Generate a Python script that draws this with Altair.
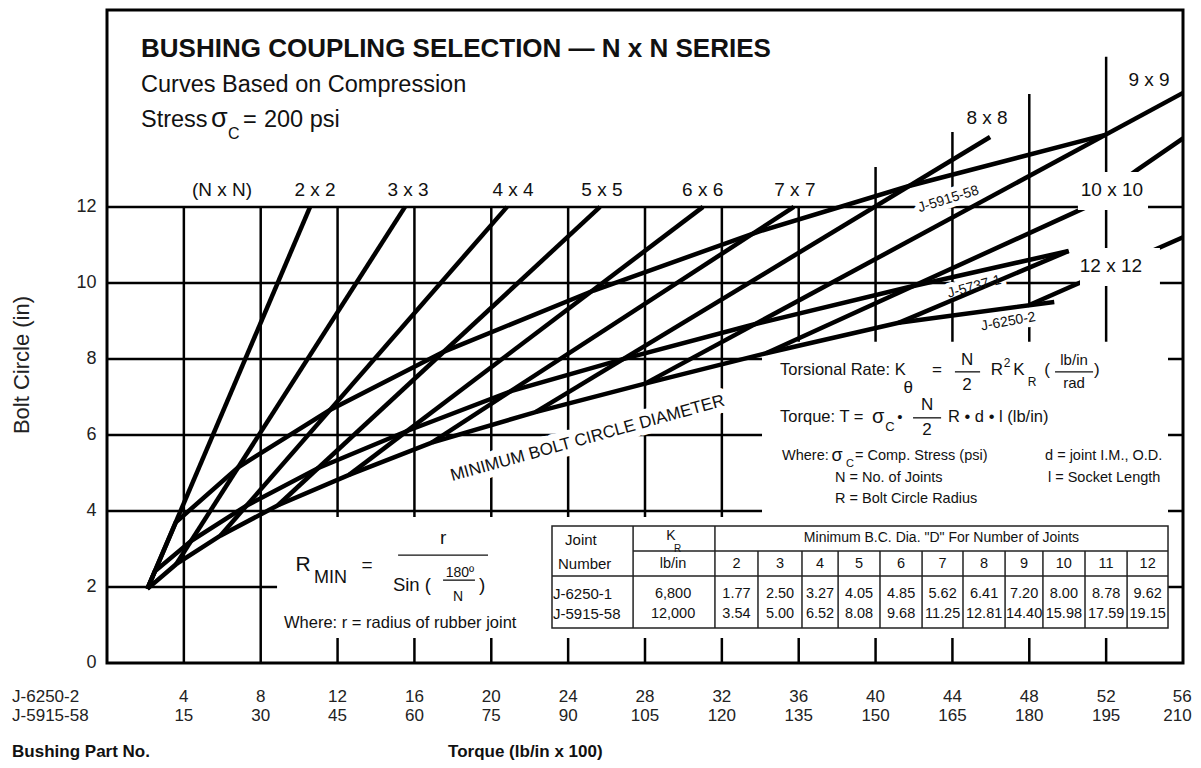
import altair as alt
import pandas as pd

# ---------------- values ----------------
X_MAX = 56.0          # torque, J-6250-2 scale (lb/in x 100)
Y_MAX = 17.18         # bolt circle (in) at the top edge of the frame
X_TICKS_6250 = [4, 8, 12, 16, 20, 24, 28, 32, 36, 40, 44, 48, 52, 56]
X_TICKS_5915 = [15, 30, 45, 60, 75, 90, 105, 120, 135, 150, 165, 180, 195, 210]
Y_TICKS = [0, 2, 4, 6, 8, 10, 12]

# grid
V_GRID_X = [4, 8, 12, 16, 20, 24, 28, 32, 36, 40, 44, 48, 52]
V_GRID_TOP = [12, 12, 12, 12, 12, 12, 12, 12, 12, 13.05, 13.97, 14.97, 15.95]
H_GRID_Y = [2, 4, 6, 8, 10, 12]

# N x N lines: from the minimum-B.C. curve up to their end
NN_N = [2, 3, 4, 5, 6, 7, 8, 9, 10, 11, 12]
NN_X0 = [2.1, 3.6, 5.9, 8.9, 12.6, 16.9, 22.3, 28.0, 34.3, 41.2, 48.0]
NN_Y0 = [1.95, 2.6, 3.35, 4.15, 4.95, 5.8, 6.6, 7.35, 8.15, 8.95, 9.42]
NN_X1 = [10.57, 15.51, 20.82, 25.66, 31.02, 35.75, 45.96, 56.0, 50.99, 50.05, 56.0]
NN_Y1 = [12.0, 12.0, 12.0, 12.0, 12.0, 12.0, 13.84, 15.0, 12.0, 10.84, 11.2]
TEN_TAIL_X = [50.99, 53.6, 56.0]
TEN_TAIL_Y = [12.0, 12.97, 13.8]

# bushing curves
J6250_X = [2.1, 3.6, 5.9, 8.9, 12.6, 16.9, 22.3, 28.0, 34.3, 41.2, 49.3]
J6250_Y = [1.95, 2.6, 3.35, 4.15, 4.95, 5.8, 6.6, 7.35, 8.15, 8.95, 9.5]
J5737_X = [2.1, 2.49, 4.37, 7.26, 11.0, 15.65, 21.07, 26.9, 33.6, 41.8, 50.05]
J5737_Y = [1.95, 2.41, 3.21, 4.14, 5.13, 6.11, 7.16, 8.0, 8.9, 9.9, 10.84]
J5915_X = [2.1, 3.58, 6.83, 11.58, 17.57, 25.33, 33.92, 41.74, 52.0]
J5915_Y = [1.95, 3.7, 5.15, 6.65, 8.2, 9.8, 11.35, 12.55, 13.9]

# white panels behind the formulas / table, and behind two labels
BOX_X0 = [8.85, 34.09, 50.53, 50.64]
BOX_X1 = [55.22, 55.22, 54.18, 54.8]
BOX_Y0 = [0.66, 3.84, 11.92, 9.92]
BOX_Y1 = [3.84, 8.45, 12.92, 10.92]

# table
TBL_X = [23.16, 55.22]
TBL_Y = [0.921, 3.605]
TBL_FULL_COLS = [27.38, 31.64]
TBL_NUM_COLS = [33.88, 36.17, 38.05, 40.23, 42.42, 44.55, 46.74, 48.71, 50.9, 53.09]
TBL_MID_Y = 2.947
TBL_HEAD_Y = 2.289
TBL_CENTERS = [32.76, 35.03, 37.11, 39.14, 41.33, 43.49, 45.65, 47.73, 49.8, 52.0, 54.16]
TBL_JOINTS = ["2", "3", "4", "5", "6", "7", "8", "9", "10", "11", "12"]
TBL_ROW1 = ["1.77", "2.50", "3.27", "4.05", "4.85", "5.62", "6.41", "7.20", "8.00", "8.78", "9.62"]
TBL_ROW2 = ["3.54", "5.00", "6.52", "8.08", "9.68", "11.25", "12.81", "14.40", "15.98", "17.59", "19.15"]

# labels
COL_LABELS = ["(N x N)", "2 x 2", "3 x 3", "4 x 4", "5 x 5", "6 x 6", "7 x 7",
              "8 x 8", "9 x 9", "10 x 10", "12 x 12"]
COL_LABEL_X = [5.99, 10.83, 15.67, 21.13, 25.76, 31.0, 35.8, 45.8, 54.23, 52.3, 52.25]
COL_LABEL_Y = [12.45, 12.45, 12.45, 12.45, 12.45, 12.45, 12.45, 14.34, 15.34, 12.45, 10.45]

ROT_LABELS = ["J-5915-58", "J-5737-1", "J-6250-2"]
ROT_X = [43.79, 45.14, 46.91]
ROT_Y = [12.2, 9.9, 8.98]
ROT_ANGLE = [343, 345, 350]

FRACTION_BARS = [  # x0, x1, y
    (44.13, 45.44, 7.66), (49.34, 51.32, 7.66), (41.95, 43.41, 6.45),
    (15.15, 19.83, 2.84), (17.49, 19.15, 2.18),
]

FONT = "Liberation Sans"
INK = "#111111"

XS = alt.Scale(domain=[0, X_MAX], nice=False, zero=False)
YS = alt.Scale(domain=[0, Y_MAX], nice=False, zero=False)


def X(f="x"):
    return alt.X(f"{f}:Q", scale=XS, axis=None)


def Y(f="y"):
    return alt.Y(f"{f}:Q", scale=YS, axis=None)


def texts(items, align="center", baseline="middle", weight="normal",
          color=INK, halo=0):
    df = pd.DataFrame(items, columns=["text", "x", "y", "size", "angle"])
    kw = dict(font=FONT, align=align, baseline=baseline, fontWeight=weight)
    if halo:
        mk = alt.Chart(df).mark_text(color="white", stroke="white",
                                     strokeWidth=halo, strokeJoin="round", **kw)
    else:
        mk = alt.Chart(df).mark_text(color=color, **kw)
    return mk.encode(
        x=X(), y=Y(), text="text:N",
        size=alt.Size("size:Q", scale=None, legend=None),
        angle=alt.Angle("angle:Q", scale=None, legend=None),
    )


layers = []

# ---- grid ----
vg = pd.DataFrame({"x": V_GRID_X, "y0": [0] * len(V_GRID_X), "y1": V_GRID_TOP})
layers.append(alt.Chart(vg).mark_rule(color="black", strokeWidth=2.5)
              .encode(x=X(), y=Y("y0"), y2=alt.Y2("y1:Q")))
hg = pd.DataFrame({"y": H_GRID_Y, "x0": [0] * len(H_GRID_Y), "x1": [X_MAX] * len(H_GRID_Y)})
layers.append(alt.Chart(hg).mark_rule(color="black", strokeWidth=2.5)
              .encode(y=Y(), x=X("x0"), x2=alt.X2("x1:Q")))

# ---- white panels (formula + table area) ----
bx = pd.DataFrame({"x0": BOX_X0[:2], "x1": BOX_X1[:2], "y0": BOX_Y0[:2], "y1": BOX_Y1[:2]})
layers.append(alt.Chart(bx).mark_rect(color="white")
              .encode(x=X("x0"), x2=alt.X2("x1:Q"), y=Y("y0"), y2=alt.Y2("y1:Q")))

# ---- halos behind rotated labels ----
rot_items = [(t, x, y, 14, a) for t, x, y, a in zip(ROT_LABELS, ROT_X, ROT_Y, ROT_ANGLE)]
min_item = [("MINIMUM BOLT CIRCLE DIAMETER", 25.01, 5.91, 17, 344.5)]
layers.append(texts(rot_items, halo=10))
layers.append(texts(min_item, halo=14))

# ---- curves ----
rows = []
for i, n in enumerate(NN_N):
    rows.append({"id": f"nn{n}", "o": 0, "x": NN_X0[i], "y": NN_Y0[i]})
    rows.append({"id": f"nn{n}", "o": 1, "x": NN_X1[i], "y": NN_Y1[i]})
for name, xs, ys in [("tail10", TEN_TAIL_X, TEN_TAIL_Y), ("J6250", J6250_X, J6250_Y),
                     ("J5737", J5737_X, J5737_Y), ("J5915", J5915_X, J5915_Y)]:
    for k, (a, b) in enumerate(zip(xs, ys)):
        rows.append({"id": name, "o": k, "x": a, "y": b})
lines = pd.DataFrame(rows)
layers.append(alt.Chart(lines).mark_line(color="black", strokeWidth=4.5, strokeCap="butt",
                                         strokeJoin="miter")
              .encode(x=X(), y=Y(), detail="id:N", order="o:Q"))

# ---- label panels above the lines ----
lb = pd.DataFrame({"x0": BOX_X0[2:], "x1": BOX_X1[2:], "y0": BOX_Y0[2:], "y1": BOX_Y1[2:]})
layers.append(alt.Chart(lb).mark_rect(color="white")
              .encode(x=X("x0"), x2=alt.X2("x1:Q"), y=Y("y0"), y2=alt.Y2("y1:Q")))

# ---- table ----
tb = pd.DataFrame({"x0": [TBL_X[0]], "x1": [TBL_X[1]], "y0": [TBL_Y[0]], "y1": [TBL_Y[1]]})
layers.append(alt.Chart(tb).mark_rect(fill="white", stroke="#222222", strokeWidth=1.5)
              .encode(x=X("x0"), x2=alt.X2("x1:Q"), y=Y("y0"), y2=alt.Y2("y1:Q")))
tv = pd.DataFrame({"x": TBL_FULL_COLS + TBL_NUM_COLS,
                   "y0": [TBL_Y[0]] * (len(TBL_FULL_COLS) + len(TBL_NUM_COLS)),
                   "y1": [TBL_Y[1]] * len(TBL_FULL_COLS) + [TBL_MID_Y] * len(TBL_NUM_COLS)})
layers.append(alt.Chart(tv).mark_rule(color="#222222", strokeWidth=1.5)
              .encode(x=X(), y=Y("y0"), y2=alt.Y2("y1:Q")))
th = pd.DataFrame({"y": [TBL_MID_Y, TBL_HEAD_Y], "x0": [TBL_FULL_COLS[0], TBL_X[0]],
                   "x1": [TBL_X[1], TBL_X[1]]})
layers.append(alt.Chart(th).mark_rule(color="#222222", strokeWidth=1.5)
              .encode(y=Y(), x=X("x0"), x2=alt.X2("x1:Q")))

# fraction bars
fb = pd.DataFrame(FRACTION_BARS, columns=["x0", "x1", "y"])
layers.append(alt.Chart(fb).mark_rule(color=INK, strokeWidth=1.3)
              .encode(y=Y(), x=X("x0"), x2=alt.X2("x1:Q")))

# ---- texts ----
# title block
layers.append(texts([("BUSHING COUPLING SELECTION \u2014 N x N SERIES", 1.77, 15.95, 26, 0)],
                    align="left", baseline="alphabetic", weight="bold"))
layers.append(texts([("Curves Based on Compression", 1.77, 15.03, 23.5, 0),
                     ("Stress", 1.77, 14.1, 23.5, 0),
                     ("\u03c3", 5.41, 14.1, 27, 0),
                     ("C", 6.3, 13.78, 16, 0),
                     ("=", 7.08, 14.1, 23.5, 0),
                     ("200 psi", 8.17, 14.1, 23.5, 0)],
                    align="left", baseline="alphabetic"))
# N x N labels
layers.append(texts([(t, x, y, 19, 0) for t, x, y in zip(COL_LABELS, COL_LABEL_X, COL_LABEL_Y)]))
# rotated labels
layers.append(texts(rot_items))
layers.append(texts(min_item))

# formulas
layers.append(texts([
    ("Torsional Rate: K", 35.03, 7.71, 16.5, 0),
    ("Torque: T =", 35.03, 6.47, 16.5, 0),
    ("R \u2022 d \u2022 l (lb/in)", 43.77, 6.47, 16.5, 0),
    ("Where:", 35.13, 5.45, 14.5, 0),
    ("= Comp. Stress (psi)", 38.93, 5.45, 14.5, 0),
    ("d = joint I.M., O.D.", 48.82, 5.45, 14.5, 0),
    ("N = No. of Joints", 37.89, 4.87, 14.5, 0),
    ("l = Socket Length", 48.97, 4.87, 14.5, 0),
    ("R = Bolt Circle Radius", 37.89, 4.31, 14.5, 0),
], align="left"))
layers.append(texts([
    ("\u03b8", 41.7, 7.24, 17, 0), ("=", 43.2, 7.71, 17, 0),
    ("N", 44.76, 7.97, 17, 0), ("2", 44.76, 7.32, 17, 0),
    ("R", 46.32, 7.71, 17, 0), ("2", 46.84, 7.89, 12, 0),
    ("K", 47.46, 7.71, 17, 0), ("R", 48.14, 7.39, 12, 0),
    ("(", 48.92, 7.71, 17, 0), ("lb/in", 50.33, 7.97, 15, 0),
    ("rad", 50.33, 7.37, 15, 0), (")", 51.52, 7.71, 17, 0),
    ("\u03c3", 40.13, 6.47, 20, 0), ("C", 40.75, 6.21, 13, 0),
    ("\u2022", 41.27, 6.47, 15, 0),
    ("N", 42.68, 6.79, 17, 0), ("2", 42.68, 6.13, 17, 0),
    ("\u03c3", 37.99, 5.45, 18, 0), ("C", 38.67, 5.24, 11, 0),
]))

# R min formula
layers.append(texts([
    ("R", 10.2, 2.58, 21, 0), ("MIN", 11.63, 2.24, 18, 0), ("=", 13.53, 2.58, 19, 0),
    ("r", 17.49, 3.29, 19, 0), ("180\u00ba", 18.37, 2.37, 14, 0), ("N", 18.27, 1.74, 14, 0),
    (")", 19.52, 2.05, 19, 0),
]))
layers.append(texts([
    ("Sin (", 14.88, 2.05, 18.5, 0),
    ("Where: r = radius of rubber joint", 9.21, 1.05, 16.5, 0),
], align="left"))

# table texts
tbl_center = [("Minimum B.C. Dia. \"D\" For Number of Joints", 43.43, 3.28, 14, 0),
              ("K", 29.35, 3.33, 14, 0), ("R", 29.7, 3.0, 10, 0),
              ("lb/in", 29.46, 2.6, 14.5, 0), ("6,800", 29.46, 1.82, 14.5, 0),
              ("12,000", 29.46, 1.3, 14.5, 0)]
for c, j, r1, r2 in zip(TBL_CENTERS, TBL_JOINTS, TBL_ROW1, TBL_ROW2):
    tbl_center += [(j, c, 2.6, 14.5, 0), (r1, c, 1.82, 14.5, 0), (r2, c, 1.3, 14.5, 0)]
layers.append(texts(tbl_center))
layers.append(texts([("Joint", 23.84, 3.24, 15, 0), ("Number", 23.47, 2.6, 15, 0),
                     ("J-6250-1", 23.21, 1.82, 15, 0), ("J-5915-58", 23.21, 1.3, 15, 0)],
                    align="left"))

# axis labels
ax_items = [(str(v), -0.55, v, 18, 0) for v in Y_TICKS]
layers.append(texts(ax_items, align="right", color="#222222"))
xl = [(str(a), a, -0.895, 17, 0) for a in X_TICKS_6250[:-1]] + \
     [(str(b), a, -1.395, 17, 0) for a, b in zip(X_TICKS_6250[:-1], X_TICKS_5915[:-1])]
layers.append(texts(xl, color="#222222"))
layers.append(texts([(str(X_TICKS_6250[-1]), 56.45, -0.895, 17, 0),
                     (str(X_TICKS_5915[-1]), 56.45, -1.395, 17, 0)],
                    align="right", color="#222222"))
layers.append(texts([("J-6250-2", -4.94, -0.895, 17, 0), ("J-5915-58", -4.94, -1.395, 17, 0)],
                    align="left", color="#222222"))
layers.append(texts([("Bolt Circle (in)", -4.42, 7.84, 22, 270)], color="#222222"))
layers.append(texts([("Bushing Part No.", -4.94, -2.46, 17, 0),
                     ("Torque (lb/in x 100)", 17.75, -2.46, 17, 0)],
                    align="left", baseline="alphabetic", weight="bold"))

chart = alt.layer(*layers).properties(
    width=1076, height=653,
    autosize=alt.AutoSizeParams(type="none"),
    padding={"left": 99, "top": 2, "right": 10, "bottom": 97},
).configure_view(stroke="black", strokeWidth=3)

chart.save("out.html", embed_options={"renderer": "svg", "actions": False})
